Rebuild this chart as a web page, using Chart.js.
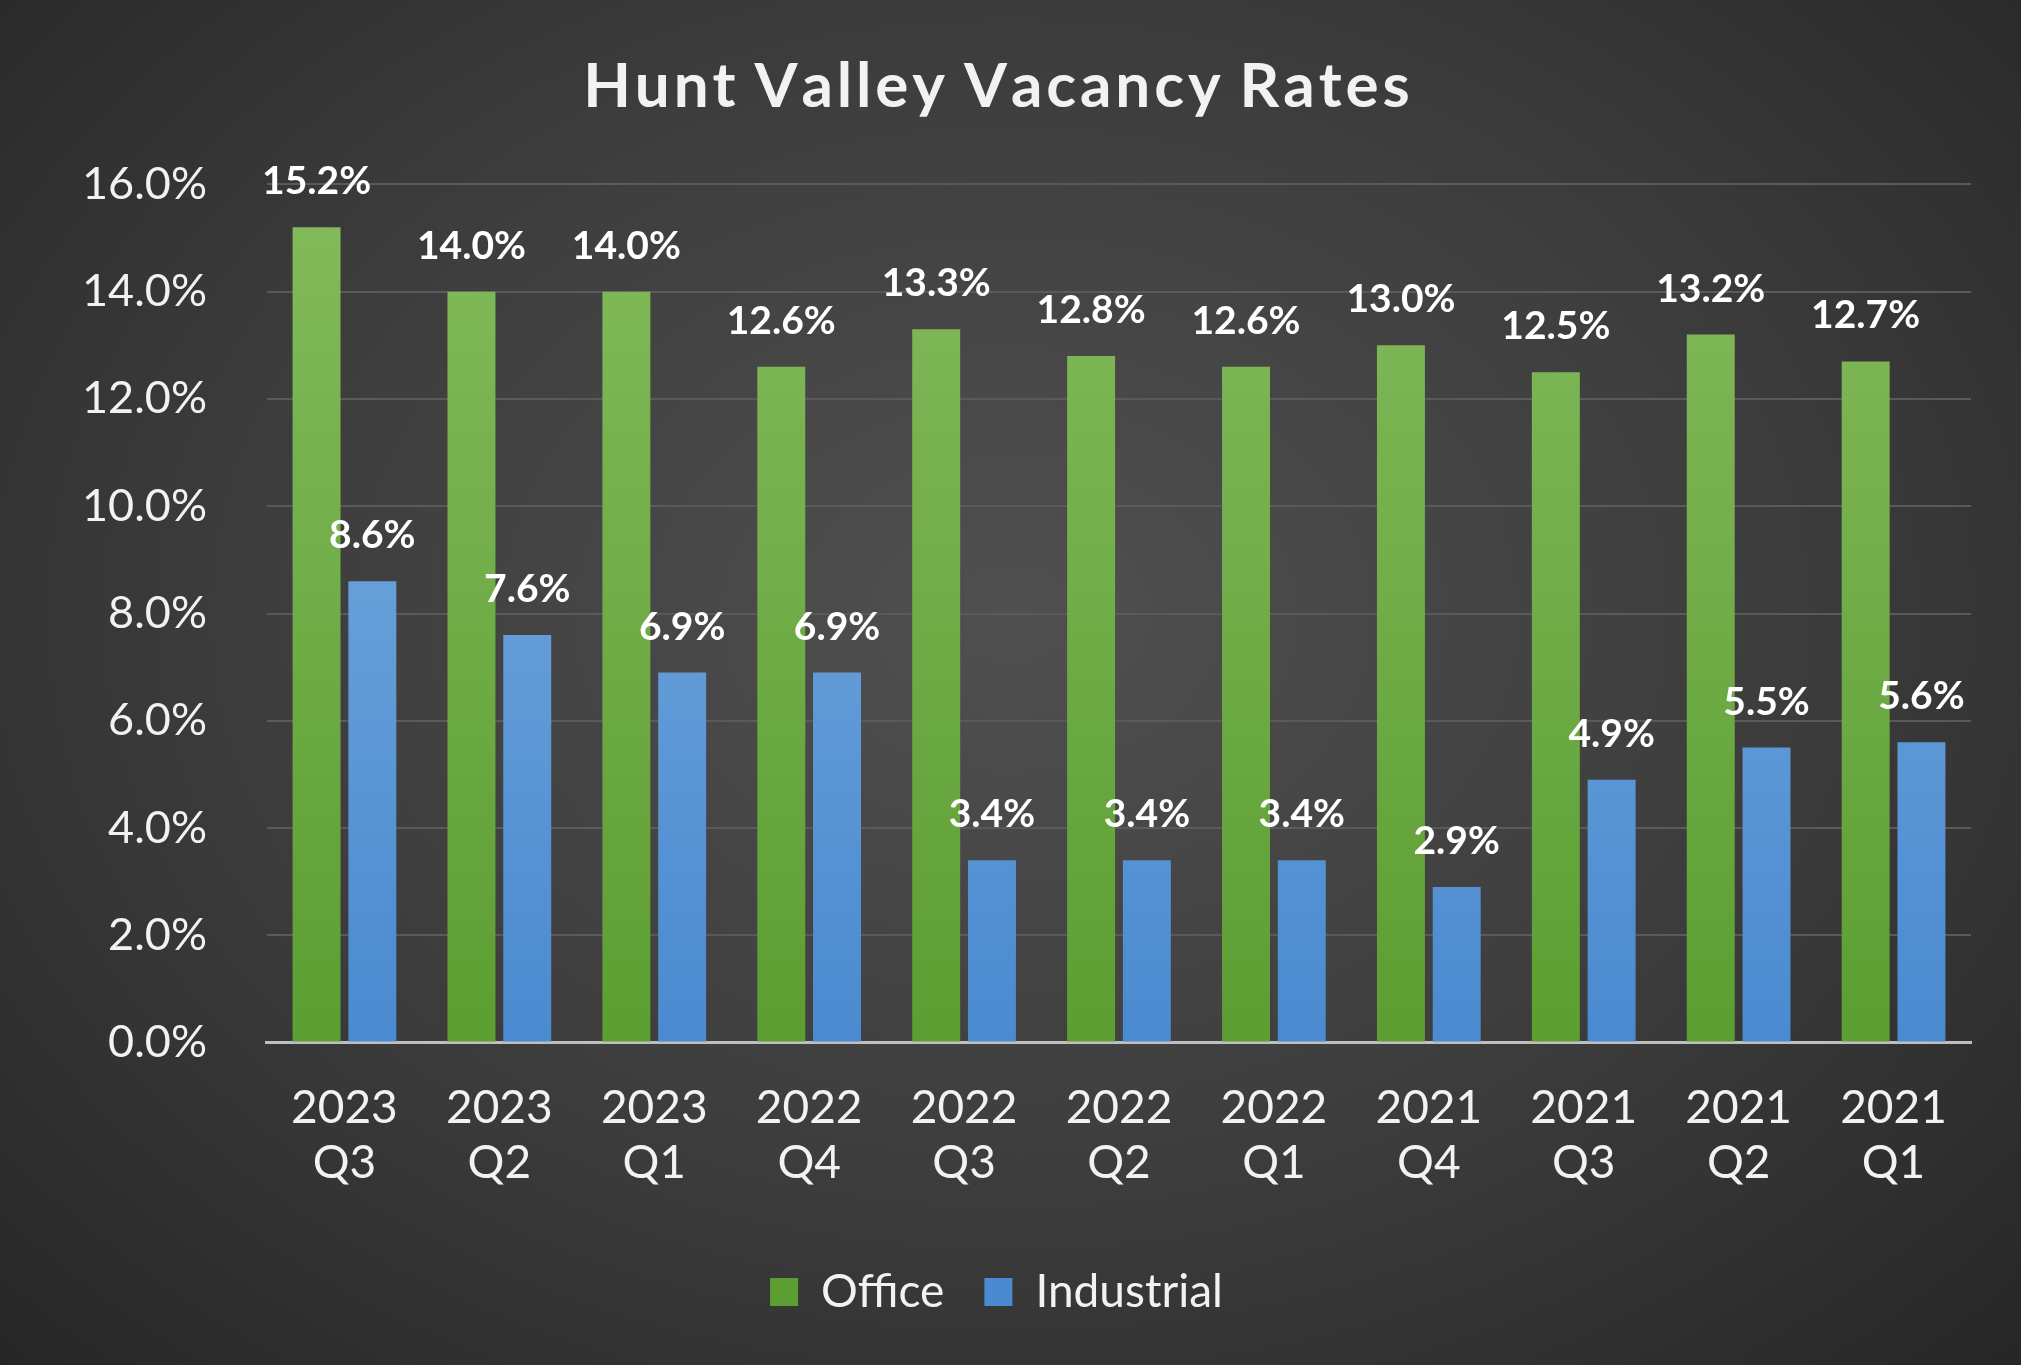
<!DOCTYPE html>
<html>
<head>
<meta charset="utf-8">
<script src="https://cdn.jsdelivr.net/npm/chart.js@4"></script>
<style>
  html, body { margin: 0; padding: 0; }
  body {
    width: 2021px; height: 1365px; overflow: hidden;
    background: radial-gradient(ellipse at 50% 45%, #505050 0%, #3c3c3c 55%, #262626 100%);
  }
  #wrap { position: absolute; left: 0; top: 0; width: 2021px; height: 1365px; }
</style>
</head>
<body>
<div id="wrap"><canvas id="chart"></canvas></div>
<script>
const categories = [["2023","Q3"],["2023","Q2"],["2023","Q1"],["2022","Q4"],["2022","Q3"],["2022","Q2"],["2022","Q1"],["2021","Q4"],["2021","Q3"],["2021","Q2"],["2021","Q1"]];
const office = [15.2, 14.0, 14.0, 12.6, 13.3, 12.8, 12.6, 13.0, 12.5, 13.2, 12.7];
const industrial = [8.6, 7.6, 6.9, 6.9, 3.4, 3.4, 3.4, 2.9, 4.9, 5.5, 5.6];

const FONT = "Lato, 'Open Sans', sans-serif";

function grad(ctx, chartArea, top, bottom) {
  const g = ctx.createLinearGradient(0, chartArea.top, 0, chartArea.bottom);
  g.addColorStop(0, top);
  g.addColorStop(1, bottom);
  return g;
}

// draws the value above each bar
const valueLabels = {
  id: "valueLabels",
  afterDatasetsDraw(chart) {
    const ctx = chart.ctx;
    ctx.save();
    ctx.font = "bold 39px " + FONT;
    ctx.fillStyle = "#ffffff";
    ctx.textAlign = "center";
    ctx.textBaseline = "bottom";
    chart.data.datasets.forEach((ds, i) => {
      chart.getDatasetMeta(i).data.forEach((bar, j) => {
        ctx.fillText(ds.data[j].toFixed(1) + "%", bar.x, bar.y - 26);
      });
    });
    ctx.restore();
  }
};

new Chart(document.getElementById("chart"), {
  type: "bar",
  data: {
    labels: categories,
    datasets: [
      {
        label: "Office",
        data: office,
        backgroundColor: (c) => c.chart.chartArea ? grad(c.chart.ctx, c.chart.chartArea, "#84bb5c", "#5c9e32") : "#70ad47",
        borderWidth: 0
      },
      {
        label: "Industrial",
        data: industrial,
        backgroundColor: (c) => c.chart.chartArea ? grad(c.chart.ctx, c.chart.chartArea, "#7fb0e0", "#4a8ad0") : "#5b9bd5",
        borderWidth: 0
      }
    ]
  },
  options: {
    responsive: true,
    maintainAspectRatio: false,
    animation: false,
    layout: { padding: { left: 22, right: 50, top: 20, bottom: 40 } },
    plugins: {
      title: {
        display: true,
        text: "H u n t  V a l l e y  V a c a n c y  R a t e s".replace(/ (?! )/g, "\u200A"),
        color: "#f2f2f2",
        font: { family: FONT, size: 62, weight: "bold" },
        padding: { top: 30, bottom: 60 }
      },
      legend: {
        position: "bottom",
        labels: {
          color: "#f2f2f2",
          font: { family: FONT, size: 46 },
          boxWidth: 28, boxHeight: 28, padding: 40
        }
      },
      tooltip: { enabled: false }
    },
    datasets: { bar: { categoryPercentage: 0.72, barPercentage: 0.86 } },
    scales: {
      x: {
        grid: { display: false, drawTicks: false },
        border: { color: "#bfbfbf", width: 3 },
        ticks: { color: "#f2f2f2", font: { family: FONT, size: 46 }, padding: 38, maxRotation: 0 }
      },
      y: {
        min: 0, max: 16,
        ticks: {
          stepSize: 2, color: "#f2f2f2",
          font: { family: FONT, size: 45 }, padding: 60,
          callback: (v) => v.toFixed(1) + "%"
        },
        grid: { color: "#5a5a5a", lineWidth: 2, drawTicks: false },
        border: { display: false }
      }
    }
  },
  plugins: [valueLabels]
});
</script>
</body>
</html>
